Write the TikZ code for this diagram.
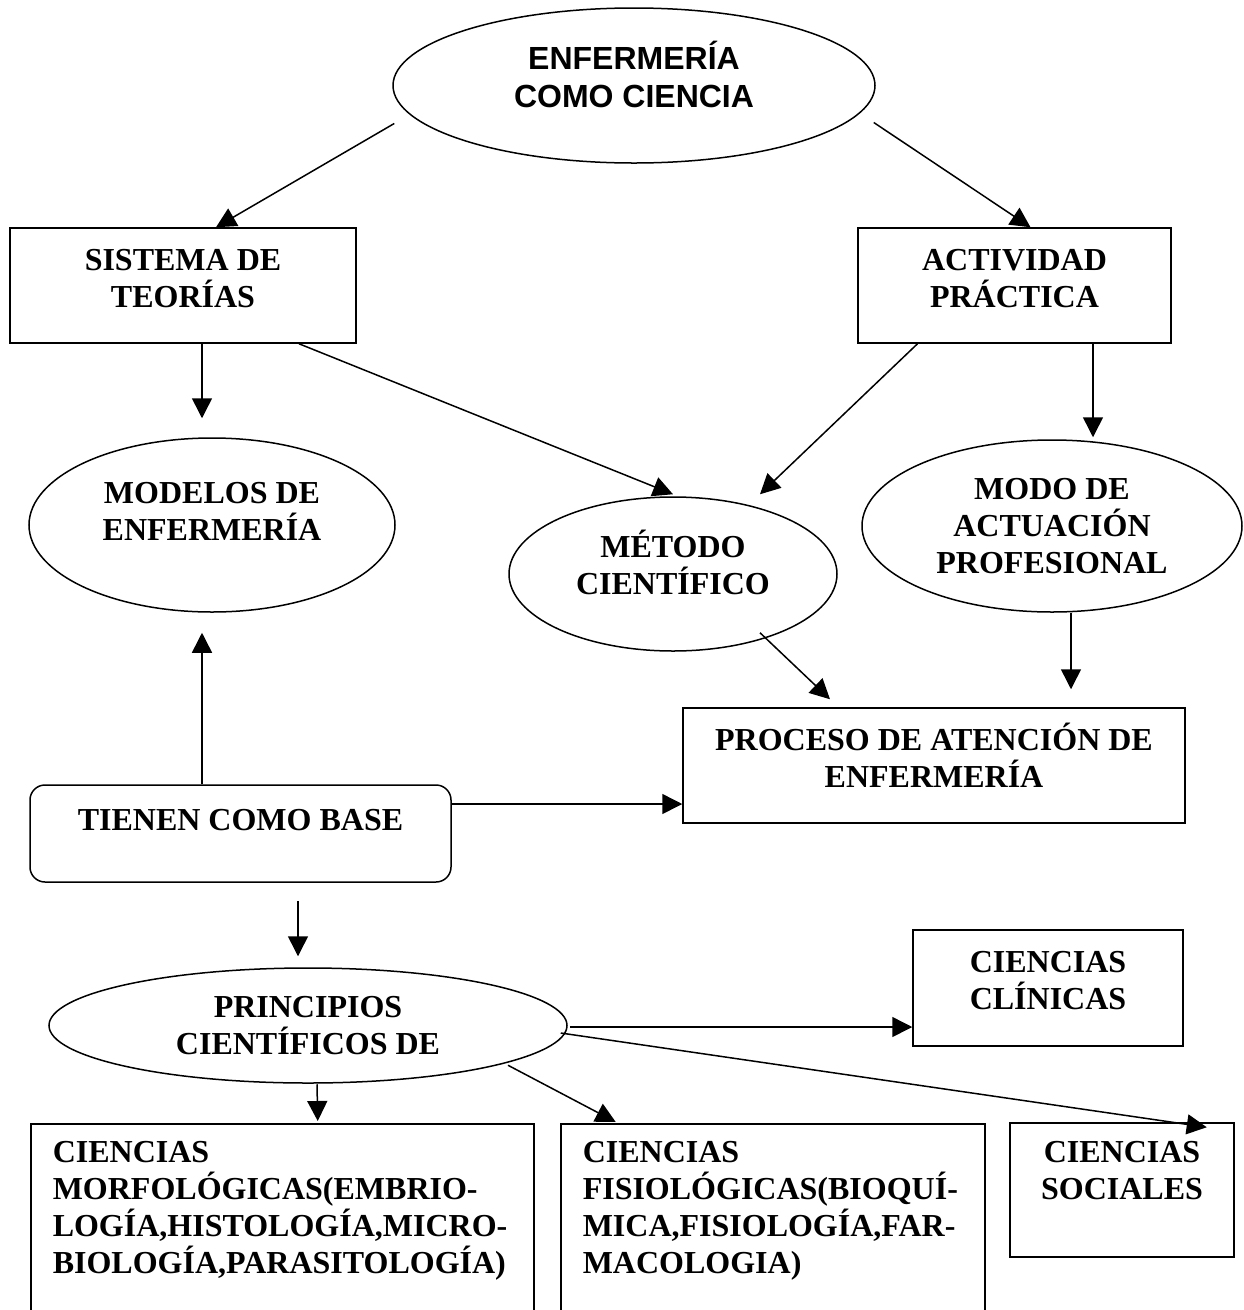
\documentclass[tikz,border=0pt]{standalone}
\usepackage{fontspec}
\setmainfont{Liberation Serif}
\newfontfamily\arialfont{Liberation Sans}
\usetikzlibrary{shapes.geometric,arrows.meta,calc}
\begin{document}
\begin{tikzpicture}[x=1pt,y=-1pt,
  every node/.style={font=\bfseries\fontsize{32}{37}\selectfont, align=center, inner sep=0pt},
  ell/.style={draw, ellipse, line width=1.5pt, inner sep=0pt},
  box/.style={draw, rectangle, line width=1.5pt},
  arr/.style={line width=1.5pt, -{Triangle[length=20pt,width=20pt]}}]
\useasboundingbox[fill=white] (0,0) rectangle (1244,1310);

% nodes
\node[ell, minimum width=482pt, minimum height=155pt, text depth=23pt,
      font=\arialfont\bfseries\fontsize{32}{38}\selectfont] (top) at (634,85.5) {ENFERMERÍA\\COMO CIENCIA};
\node[box, minimum width=346pt, minimum height=115pt, text depth=14pt] (sis) at (183,285.5) {SISTEMA DE\\TEORÍAS};
\node[box, minimum width=313pt, minimum height=115pt, text depth=14pt] (act) at (1014.5,285.5) {ACTIVIDAD\\PRÁCTICA};
\node[ell, minimum width=366pt, minimum height=174pt, text depth=27pt] (mod) at (212,525) {MODELOS DE\\ENFERMERÍA};
\node[ell, minimum width=328pt, minimum height=154pt, text depth=23pt] (met) at (673,574) {MÉTODO\\CIENTÍFICO};
\node[ell, minimum width=380pt, minimum height=172pt] (modo) at (1052,526) {MODO DE\\ACTUACIÓN\\PROFESIONAL};
\node[box, minimum width=502pt, minimum height=115pt, text depth=21pt] (pro) at (934,765.5) {PROCESO DE ATENCIÓN DE\\ENFERMERÍA};
\node[box, rounded corners=15pt, minimum width=421pt, minimum height=97pt, text depth=27pt] (tie) at (240.5,833.5) {TIENEN COMO BASE};
\node[ell, minimum width=518pt, minimum height=115pt] (pri) at (308,1025.5) {PRINCIPIOS\\CIENTÍFICOS DE};
\node[box, minimum width=270pt, minimum height=116pt, text depth=16pt] (cli) at (1048,988) {CIENCIAS\\CLÍNICAS};
\node[box, anchor=north west, inner xsep=22pt, inner ysep=18pt, text width=459pt, align=left, text depth=200pt] (mor) at (30,1123)
  {\mbox{CIENCIAS}\\\mbox{MORFOLÓGICAS(EMBRIO-}\\\mbox{LOGÍA,HISTOLOGÍA,MICRO-}\\\mbox{BIOLOGÍA,PARASITOLOGÍA)}};
\node[box, anchor=north west, inner xsep=22pt, inner ysep=18pt, text width=380pt, align=left, text depth=200pt] (fis) at (560,1123)
  {\mbox{CIENCIAS}\\\mbox{FISIOLÓGICAS(BIOQUÍ-}\\\mbox{MICA,FISIOLOGÍA,FAR-}\\\mbox{MACOLOGIA)}};
\node[box, minimum width=224pt, minimum height=134pt, text depth=40pt] (soc) at (1122,1190) {CIENCIAS\\SOCIALES};

% connectors
\draw[arr] ($(top.west)+(2,38)$) -- ($(sis.north)+(33,0)$);
\draw[arr] ($(top.east)+(-2,37)$) -- ($(act.north)+(16,0)$);
\draw[arr] ($(sis.south)+(19,0)$) -- ($(mod.north)+(-10,-19)$);
\draw[arr] ($(sis.south)+(116,0)$) -- ($(met.north)+(0,-2)$);
\draw[arr] ($(act.south)+(-97,0)$) -- ($(met.north)+(87,-2)$);
\draw[arr] ($(act.south)+(78.5,0)$) -- ($(modo.north)+(41,-2)$);
\draw[arr] ($(tie.north)+(-38.5,0)$) -- ($(mod.south)+(-10,20)$);
\draw[arr] ($(tie.east)+(0,-29.5)$) -- ($(pro.west)+(0,38.5)$);
\draw[arr] ($(met.south)+(87,-19)$) -- ($(pro.north)+(-104,-8)$);
\draw[arr] ($(modo.south)+(19,0)$) -- ($(pro.north)+(137,-18)$);
\draw[arr] ($(tie.south)+(57.5,18)$) -- ($(pri.north)+(-10,-11)$);
\draw[arr] ($(pri.east)+(2,1.5)$) -- ($(cli.west)+(0,39)$);
\draw[arr] ($(pri.east)+(-7,7.5)$) -- ($(soc.north east)+(-28,5)$);
\draw[arr] ($(pri.south)+(9,0.5)$) -- ($(mor.north)+(35.5,-2)$);
\draw[arr] ($(pri.south)+(200,-18.5)$) -- ($(fis.north)+(-157,-1)$);
\end{tikzpicture}
\end{document}
